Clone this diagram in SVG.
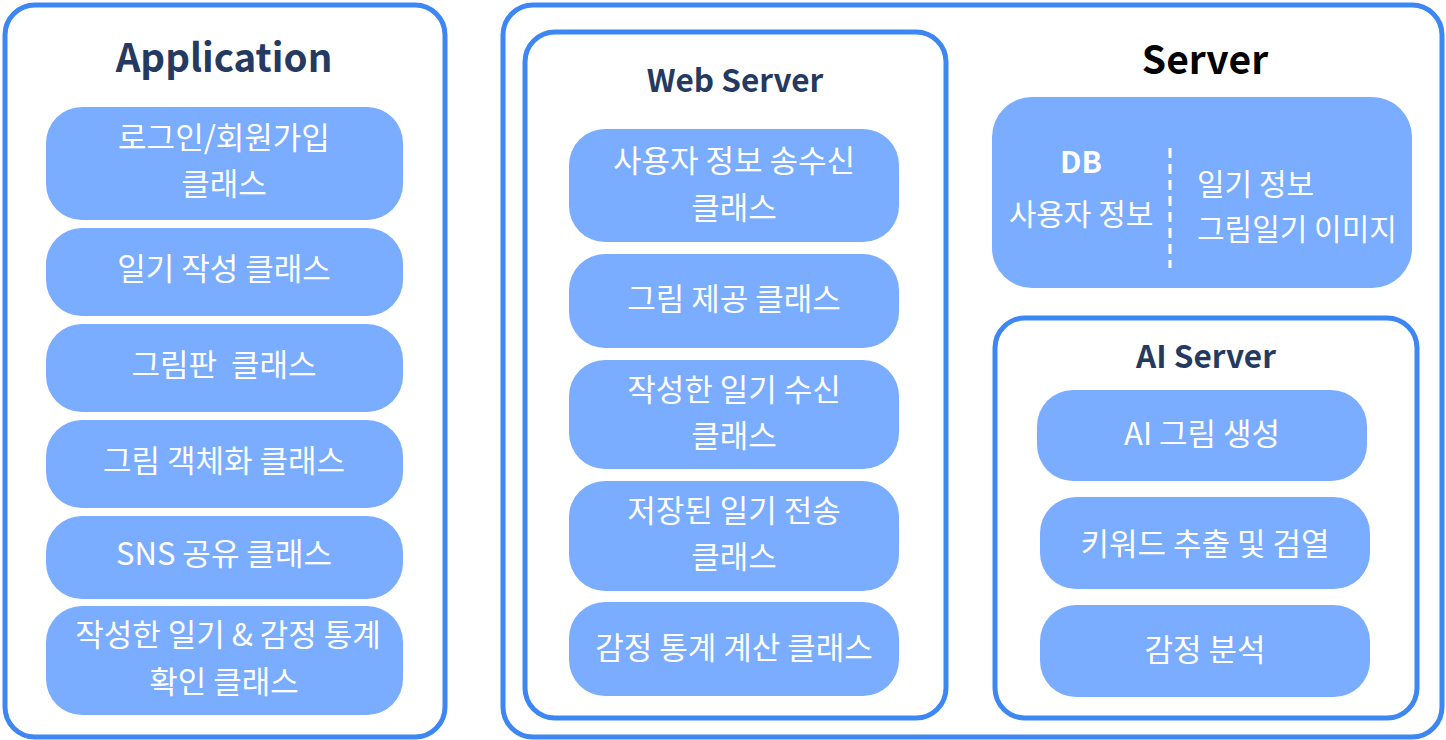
<svg xmlns="http://www.w3.org/2000/svg" width="1446" height="740" viewBox="0 0 1446 740">
<style>
.frame{fill:#fff;stroke:#3d87f5;stroke-width:5}
.box{fill:#7aadff}
.t{font-family:"Noto Sans CJK KR","Noto Sans",sans-serif;font-size:31px;fill:#fff;text-anchor:middle;white-space:pre}
.h{font-family:"Noto Sans CJK KR","Noto Sans",sans-serif;font-weight:bold;fill:#253a60;text-anchor:middle}
</style>
<rect width="1446" height="740" fill="#fff"/>
<g id="application">
<rect class="frame" x="5" y="5" width="440" height="732" rx="30"/>
<text class="h" x="224" y="72" font-size="38.5">Application</text>
</g>
<g id="app1"><rect class="box" x="46" y="107" width="357" height="113" rx="36"/><text class="t" x="224" y="149">로그인/회원가입</text><text class="t" x="224" y="195">클래스</text></g>
<g id="app2"><rect class="box" x="46" y="228" width="357" height="88" rx="36"/><text class="t" x="224" y="280">일기 작성 클래스</text></g>
<g id="app3"><rect class="box" x="46" y="324" width="357" height="88" rx="36"/><text class="t" x="224" y="376" xml:space="preserve">그림판  클래스</text></g>
<g id="app4"><rect class="box" x="46" y="420" width="357" height="88" rx="36"/><text class="t" x="224" y="472">그림 객체화 클래스</text></g>
<g id="app5"><rect class="box" x="46" y="516" width="357" height="83" rx="36"/><text class="t" x="224" y="565">SNS 공유 클래스</text></g>
<g id="app6"><rect class="box" x="46" y="606" width="357" height="109" rx="36"/><text class="t" x="228" y="646">작성한 일기 &amp; 감정 통계</text><text class="t" x="224" y="693">확인 클래스</text></g>

<g id="server">
<rect class="frame" x="503" y="5" width="939" height="732" rx="30"/>
<text class="h" x="1205" y="74" font-size="39" style="fill:#000">Server</text>
</g>
<g id="webserver">
<rect class="frame" x="525" y="32" width="421" height="686" rx="30"/>
<text class="h" x="735" y="92" font-size="31.5">Web Server</text>
</g>
<g id="web1"><rect class="box" x="569" y="129" width="330" height="113" rx="36"/><text class="t" x="734" y="172">사용자 정보 송수신</text><text class="t" x="734" y="219">클래스</text></g>
<g id="web2"><rect class="box" x="569" y="254" width="330" height="94" rx="36"/><text class="t" x="734" y="310">그림 제공 클래스</text></g>
<g id="web3"><rect class="box" x="569" y="360" width="330" height="109" rx="36"/><text class="t" x="734" y="401">작성한 일기 수신</text><text class="t" x="734" y="447">클래스</text></g>
<g id="web4"><rect class="box" x="569" y="481" width="330" height="110" rx="36"/><text class="t" x="734" y="522">저장된 일기 전송</text><text class="t" x="734" y="568">클래스</text></g>
<g id="web5"><rect class="box" x="569" y="602" width="330" height="94" rx="36"/><text class="t" x="734" y="659">감정 통계 계산 클래스</text></g>

<g id="db">
<rect class="box" x="992" y="97" width="420" height="191" rx="40"/>
<text class="t" x="1081" y="173" font-weight="bold" style="font-size:30px">DB</text>
<text class="t" x="1081" y="225" style="font-size:30px">사용자 정보</text>
<line x1="1170" y1="148" x2="1170" y2="268" stroke="#fff" stroke-width="3" stroke-dasharray="10,6"/>
<text class="t" x="1197" y="195" style="text-anchor:start;font-size:30px">일기 정보</text>
<text class="t" x="1197" y="240" style="text-anchor:start;font-size:30px">그림일기 이미지</text>
</g>

<g id="aiserver">
<rect class="frame" x="995" y="318" width="422" height="400" rx="30"/>
<text class="h" x="1206" y="368" font-size="31.5">AI Server</text>
</g>
<g id="ai1"><rect class="box" x="1037" y="390" width="330" height="91" rx="36"/><text class="t" x="1202" y="445">AI 그림 생성</text></g>
<g id="ai2"><rect class="box" x="1040" y="497" width="330" height="92" rx="36"/><text class="t" x="1205" y="555">키워드 추출 및 검열</text></g>
<g id="ai3"><rect class="box" x="1040" y="605" width="330" height="92" rx="36"/><text class="t" x="1205" y="661">감정 분석</text></g>
<g id="connectors"></g>
</svg>
